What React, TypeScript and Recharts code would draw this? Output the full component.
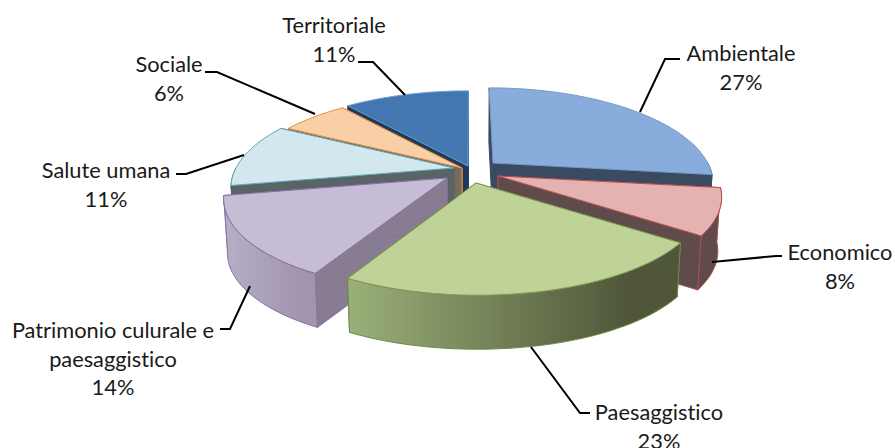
import React from 'react';
import { PieChart, Pie } from 'recharts';

const CATEGORIES = ['Ambientale', 'Economico', 'Paesaggistico', 'Patrimonio culurale e paesaggistico', 'Salute umana', 'Sociale', 'Territoriale'];
const VALUES = [27, 8, 23, 14, 11, 6, 11];

const chartData = CATEGORIES.map((name, i) => ({ name, value: VALUES[i] }));

// back slices first, so the front ones cover their walls
const DRAW_ORDER = [6, 5, 4, 3, 0, 1, 2];

// look of the 3d pie
const CENTER_X = 470;
const RADIUS_X = 218;
const RADIUS_Y = 90;
const TILT = 0.198;
const DEPTH = 54;
const APEX = [[493, 163], [498, 176], [476, 183], [447, 178], [454, 168], [462, 168], [468, 166]];
const WIDEN = [0.985, 1, 1.02, 1, 1, 1, 1];

const TOP_FILL = ['#88acdb', '#e3b2b1', '#bfd297', '#c6bcd6', '#d3e7ee', '#f9cfa8', '#4377b1'];
const EDGE = ['#7499c7', '#b5504e', '#7f9a4e', '#8672a6', '#5ea7b8', '#e8903c', '#6f9bce'];
const FACE = ['#3a4a60', '#5f4b4a', '#4f5639', '#877c92', '#5a6466', '#7a6a5a', '#1d3a5c'];
const FACE_EDGE = ['#3a4a60', '#a5504e', '#6f8a45', '#8672a6', '#5a6466', '#e8903c', '#1d3a5c'];
const WALL_FROM = ['#3a4a60', '#5f4b4a', '#9bb078', '#b8aec6', '#5a6466', '#7a6a5a', '#1d3a5c'];
const WALL_TO = ['#3a4a60', '#5f4b4a', '#4f5639', '#a094ae', '#5a6466', '#7a6a5a', '#1d3a5c'];

const LABEL_X = [741, 840, 659, 113, 106, 169, 334];
const LABEL_Y = [54, 253, 413, 331, 171, 65, 26];
const LEADERS = [
  '640,112 665,59 680,59',
  '712,262 776,256 782,256',
  '531,347 580,413 590,413',
  '250,286 230,329 220,329',
  '244,155 186,174 176,174',
  '315,114 217,72 205,72',
  '405,95 373,62 358,62',
];
const LABEL_LINES = [
  ['Ambientale'],
  ['Economico'],
  ['Paesaggistico'],
  ['Patrimonio culurale e', 'paesaggistico'],
  ['Salute umana'],
  ['Sociale'],
  ['Territoriale'],
];

const rimPoint = (i: number, deg: number) => {
  const a = (deg * Math.PI) / 180;
  const u = Math.sin(a);
  const v = -Math.cos(a);
  const s = 1 / (1 - TILT * v);
  const [ax, ay] = APEX[i];
  return [ax + RADIUS_X * WIDEN[i] * u * s + (ax - CENTER_X) * (s - 1), ay + RADIUS_Y * v * s];
};

const lowered = ([x, y]: number[]) => [x + (CENTER_X - x) * 0.015, y + DEPTH];

const toPath = (pts: number[][]) =>
  'M' + pts.map((p) => `${p[0].toFixed(1)},${p[1].toFixed(1)}`).join('L') + 'Z';

const arc = (i: number, from: number, to: number) => {
  const pts: number[][] = [];
  const steps = Math.max(2, Math.ceil((to - from) / 2));
  for (let k = 0; k <= steps; k++) pts.push(rimPoint(i, from + ((to - from) * k) / steps));
  return pts;
};

const SliceShape = (props: any, only: number) => {
  const i = CATEGORIES.indexOf(props.name);
  if (i !== only) return <g />;
  // recharts angles run counter-clockwise from 3 o'clock
  const from = 90 - props.startAngle;
  const to = 90 - props.endAngle;
  const apex = APEX[i];
  const rim = arc(i, from, to);
  const first = rim[0];
  const last = rim[rim.length - 1];
  const wallFrom = Math.max(from, 90);
  const wallTo = Math.min(to, 270);
  const wall = wallTo > wallFrom ? arc(i, wallFrom, wallTo) : null;
  const faceEdge = { stroke: FACE_EDGE[i], strokeWidth: 1, strokeLinejoin: 'round' as const };
  return (
    <g>
      <path d={toPath([apex, first, lowered(first), lowered(apex)])} fill={FACE[i]} {...faceEdge} />
      <path d={toPath([apex, last, lowered(last), lowered(apex)])} fill={FACE[i]} {...faceEdge} />
      {wall && (
        <path d={toPath([...wall, ...wall.map(lowered).reverse()])} fill={`url(#wall${i})`} {...faceEdge} />
      )}
      <path d={toPath([apex, ...rim])} fill={TOP_FILL[i]} stroke={EDGE[i]} strokeWidth={1} strokeLinejoin="round" />
    </g>
  );
};

const renderLabel = (props: any) => {
  const i = CATEGORIES.indexOf(props.name);
  const lines = [...LABEL_LINES[i], `${VALUES[i]}%`];
  return (
    <g key={i}>
      <polyline points={LEADERS[i]} fill="none" stroke="#000" strokeWidth={2} />
      {lines.map((line, n) => (
        <text key={n} x={LABEL_X[i]} y={LABEL_Y[i] + n * 28.5} dy={7} textAnchor="middle" fontFamily="Lato, sans-serif" fontSize={21.8} fill="#1a1a1a" style={{ fontVariantLigatures: 'none' }}>
          {line}
        </text>
      ))}
    </g>
  );
};

const App: React.FC = () => {
  return (
    <div style={{ position: 'absolute', left: 0, top: 0, width: 895, height: 448, background: '#fff', overflow: 'hidden' }}>
      <PieChart width={895} height={448} margin={{ top: 0, right: 0, bottom: 0, left: 0 }}>
        <defs>
          {CATEGORIES.map((_, i) => (
            <linearGradient key={i} id={`wall${i}`} x1="0" y1="0" x2="1" y2="0">
              <stop offset="0%" stopColor={WALL_FROM[i]} />
              <stop offset="85%" stopColor={WALL_TO[i]} />
            </linearGradient>
          ))}
        </defs>
        {DRAW_ORDER.map((only) => (
          <Pie
            key={only}
            data={chartData}
            dataKey="value"
            nameKey="name"
            cx={CENTER_X}
            cy={172}
            outerRadius={100}
            startAngle={90}
            endAngle={-270}
            isAnimationActive={false}
            shape={(p: any) => SliceShape(p, only)}
            label={only === 2 ? renderLabel : false}
            labelLine={false}
          />
        ))}
      </PieChart>
    </div>
  );
};

export default App;
